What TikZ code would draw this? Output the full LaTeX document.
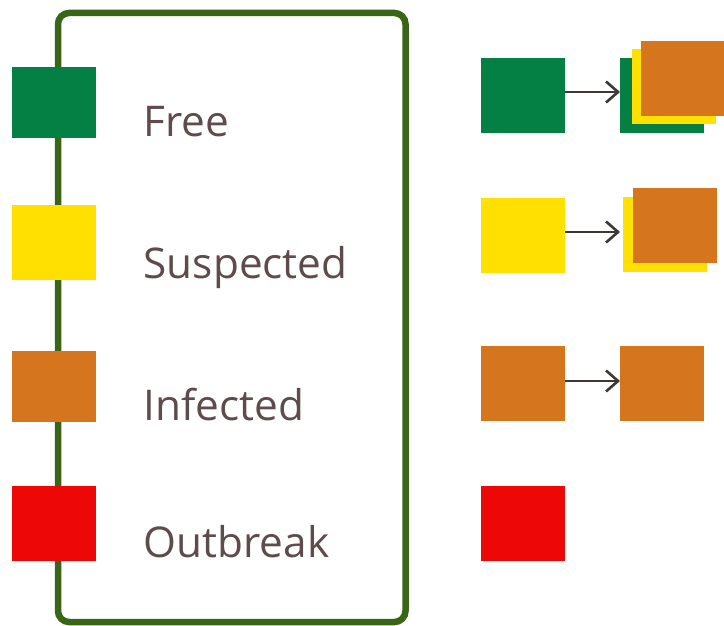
\documentclass[tikz,border=0pt]{standalone}
\usepackage{fontspec}
\setmainfont{Open Sans}
\usetikzlibrary{arrows.meta}
\definecolor{cgreen}{RGB}{5,128,69}
\definecolor{cyellow}{RGB}{255,224,0}
\definecolor{corange}{RGB}{213,118,31}
\definecolor{cred}{RGB}{238,7,7}
\definecolor{cframe}{RGB}{56,102,22}
\definecolor{ctext}{RGB}{94,75,75}
\definecolor{carrow}{RGB}{61,56,51}
\tikzset{
  sq/.style={inner sep=0pt, outer sep=0pt, minimum width=84pt, minimum height=75pt},
  lbl/.style={anchor=base west, inner sep=0pt, text=ctext, font=\fontsize{42.3}{50}\selectfont},
  arr/.style={draw=carrow, line width=2.6pt, -{Straight Barb[length=12pt,width=21pt,line width=2.6pt]}}
}
\begin{document}
\begin{tikzpicture}[x=1pt,y=-1pt]
\useasboundingbox (0,0) rectangle (724,626);
\draw[cframe, line width=6.5pt, rounded corners=11pt] (58,13) rectangle (405.5,622);
% left squares
\node[sq, fill=cgreen, minimum height=71pt] (l1) at (54,102.5) {};
\node[sq, fill=cyellow] (l2) at (54,242.5) {};
\node[sq, fill=corange, minimum height=71pt] (l3) at (54,386) {};
\node[sq, fill=cred] (l4) at (54,523.5) {};
% labels
\node[lbl] (t1) at (143.5,136) {Free};
\node[lbl] (t2) at (143.5,278) {Suspected};
\node[lbl] (t3) at (143.5,420) {Infected};
\node[lbl] (t4) at (143.5,557) {Outbreak};
% right column
\node[sq, fill=cgreen] (r1) at (523,95.5) {};
\node[sq, fill=cyellow] (r2) at (523,235.5) {};
\node[sq, fill=corange] (r3) at (523,383.5) {};
\node[sq, fill=cred] (r4) at (523,523.5) {};
% stacks
\node[sq, fill=cgreen] (s1a) at (662,95.5) {};
\node[sq, fill=cyellow] (s1b) at (674,86.5) {};
\node[sq, fill=corange] (s1c) at (682.5,78.5) {};
\node[sq, fill=cyellow] (s2a) at (665,234.5) {};
\node[sq, fill=corange] (s2b) at (675,225.5) {};
\node[sq, fill=corange] (s3a) at (662,383.5) {};
% arrows
\draw[arr] ([yshift=3.5pt]r1.east) -- ([yshift=3.5pt]s1a.west);
\draw[arr] ([yshift=3.5pt]r2.east) -- ([yshift=3.5pt]r2.east -| s1a.west);
\draw[arr] ([yshift=2.5pt]r3.east) -- ([yshift=2.5pt]s3a.west);
\end{tikzpicture}
\end{document}
